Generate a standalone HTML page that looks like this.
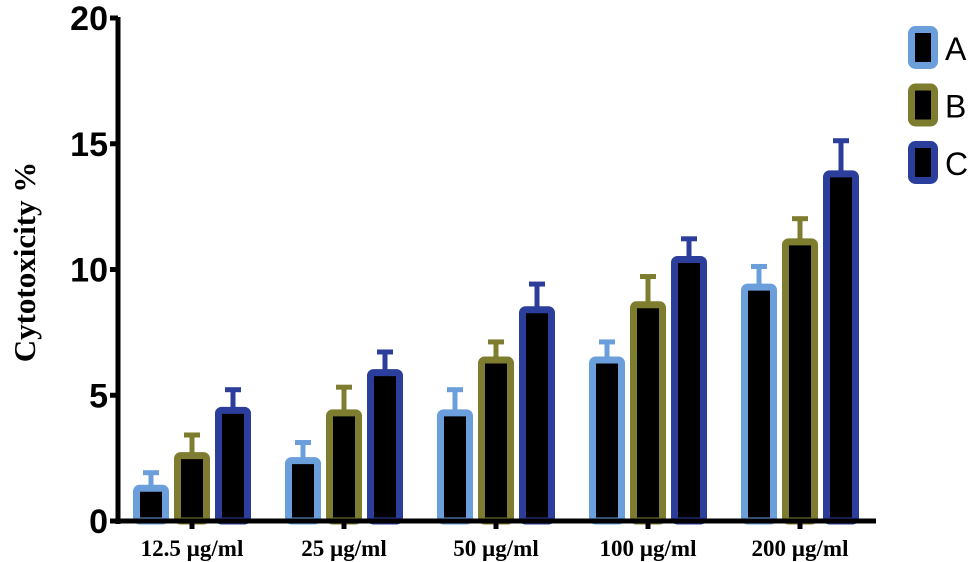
<!DOCTYPE html>
<html><head><meta charset="utf-8"><style>
body{margin:0;background:#fff;width:976px;height:562px;overflow:hidden}
svg{display:block}
</style></head><body>
<svg id="chart" width="976" height="562" xmlns="http://www.w3.org/2000/svg"></svg>
<script>
const categories=["12.5 \u00b5g/ml","25 \u00b5g/ml","50 \u00b5g/ml","100 \u00b5g/ml","200 \u00b5g/ml"];
const seriesNames=["A","B","C"];
const valuesA=[1.3,2.4,4.3,6.4,9.3];
const valuesB=[2.6,4.3,6.4,8.6,11.1];
const valuesC=[4.4,5.9,8.4,10.4,13.8];
const errA=[0.7,0.8,1.0,0.8,0.9];
const errB=[0.9,1.1,0.8,1.2,1.0];
const errC=[0.9,0.9,1.1,0.9,1.4];
const yTicks=[0,5,10,15,20];
const colors=["#6a9fdb","#7e7d2f","#2c3e9c"];
const NS="http://www.w3.org/2000/svg";
const svg=document.getElementById('chart');
function y(v){return 521-v*(503/20);}
function gx(i){return 192+i*152;}
function mk(t,a){const e=document.createElementNS(NS,t);for(const k in a)e.setAttribute(k,a[k]);svg.appendChild(e);return e;}
const vals=[valuesA,valuesB,valuesC],errs=[errA,errB,errC];
for(let s=0;s<3;s++){for(let i=0;i<categories.length;i++){
 const cx=gx(i)+(s-1)*41, v=vals[s][i], e=errs[s][i];
 const ln=mk('line',{x1:cx,x2:cx,y1:y(v),y2:y(v+e),stroke:colors[s],'stroke-width':5});
 
 
 const cap=mk('line',{x1:cx-8,x2:cx+8,y1:y(v+e)+2,y2:y(v+e)+2,stroke:colors[s],'stroke-width':5});
 
 
 const r=mk('rect',{x:cx-14.5,y:y(v),width:29,height:Math.max(0,521-y(v)),fill:'#000',stroke:colors[s],'stroke-width':7,rx:3});
 
 
}}
let a=mk('line',{x1:118,x2:118,y1:17,y2:524,stroke:'#000','stroke-width':5});

a=mk('line',{x1:116,x2:876,y1:521,y2:521,stroke:'#000','stroke-width':5});

yTicks.forEach(t=>{
 const tk=mk('line',{x1:110,x2:118,y1:y(t),y2:y(t),stroke:'#000','stroke-width':5});
 
 const tx=mk('text',{x:108,y:y(t)+12,'text-anchor':'end','font-family':'Liberation Sans, sans-serif','font-weight':'bold','font-size':34});
 tx.textContent=t;
 
});
categories.forEach((c,i)=>{
 const tk=mk('line',{x1:gx(i),x2:gx(i),y1:521,y2:529,stroke:'#000','stroke-width':5});
 
 const tx=mk('text',{x:gx(i),y:556,'text-anchor':'middle','font-family':'Liberation Serif, serif','font-weight':'bold','font-size':23});
 tx.textContent=c;
 
});
const yt=mk('text',{x:0,y:0,transform:'translate(35,262) rotate(-90)','text-anchor':'middle','font-family':'Liberation Serif, serif','font-weight':'bold','font-size':31});
yt.textContent='Cytotoxicity %';

seriesNames.forEach((n,s)=>{
 const ty=26+s*57.5;
 const r=mk('rect',{x:911.5,y:ty+3.5,width:23,height:36,fill:'#000',stroke:colors[s],'stroke-width':7,rx:4});
 
 const t=mk('text',{x:945,y:ty+34,'font-family':'Liberation Sans, sans-serif','font-size':32});
 t.textContent=n;
 
});
</script>
</body></html>
